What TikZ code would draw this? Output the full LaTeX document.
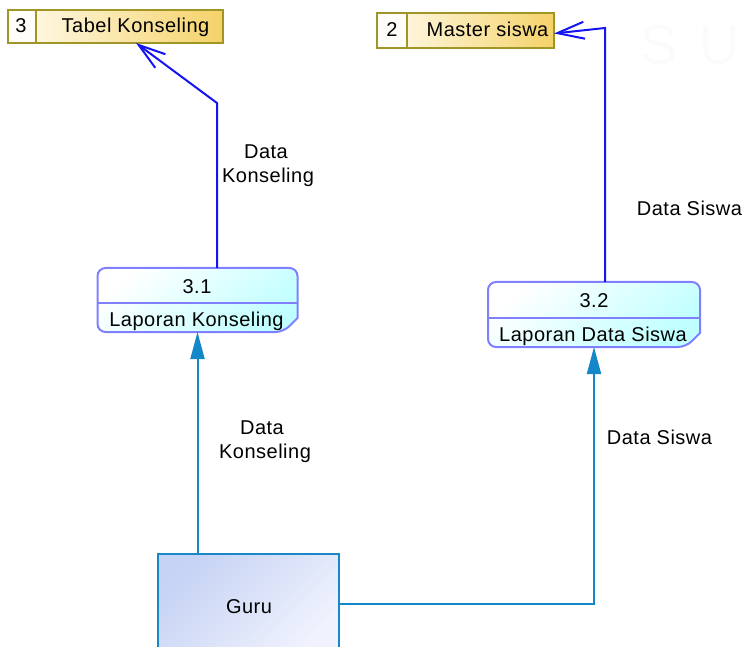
\documentclass[tikz,border=0pt]{standalone}
\usepackage{fontspec}
\setmainfont{Liberation Sans}[LetterSpace=2.5]
\usetikzlibrary{arrows.meta,calc}
\definecolor{procline}{RGB}{128,128,255}
\definecolor{proccyan}{RGB}{192,255,255}
\definecolor{storeline}{RGB}{160,150,40}
\definecolor{storegold}{RGB}{245,210,105}
\definecolor{storelight}{RGB}{255,252,240}
\definecolor{guruline}{RGB}{25,135,200}
\definecolor{gurudark}{RGB}{198,211,244}
\definecolor{gurulight}{RGB}{240,242,253}
\definecolor{flowblue}{RGB}{20,20,240}
\definecolor{flowteal}{RGB}{20,135,200}
\begin{document}
\begin{tikzpicture}[x=1pt,y=-1pt,
  txt/.style={font=\fontsize{20}{24}\selectfont, anchor=base, inner sep=0pt, outer sep=0pt},
  shapebox/.style={inner sep=0pt, outer sep=0pt, draw=none},
  storeborder/.style={draw=storeline, line width=2pt},
  procborder/.style={draw=procline, line width=2pt},
  storeflow/.style={draw=flowblue, line width=2pt, -{Straight Barb[length=27pt,width=17pt,line width=2pt]}},
  guruflow/.style={draw=flowteal, line width=2pt, -{Triangle[length=27pt,width=14pt]}}
]
\useasboundingbox (0,0) rectangle (742,647);
% watermark
\node[font=\fontsize{56}{56}\selectfont, text=black!1.5, anchor=base, inner sep=0pt] (wm) at (690,65) {S\hspace{22pt}U};

% store 3
\node[shapebox, minimum width=215pt, minimum height=33pt] (store3) at (115.5,26.5) {};
\shade[left color=storelight, right color=storegold] (store3.north west) rectangle (store3.south east);
\fill[storelight!50!white] (store3.north west) rectangle ($(store3.south west)+(28,0)$);
\draw[storeborder] (store3.north west) rectangle (store3.south east);
\draw[storeborder] ($(store3.north west)+(28,0)$) -- ($(store3.south west)+(28,0)$);
\node[txt] (s3num) at (21,33) {3};
\node[txt] (s3name) at (135.5,33) {Tabel Konseling};

% store 2
\node[shapebox, minimum width=177pt, minimum height=35pt] (store2) at (465.5,30.5) {};
\shade[left color=storelight, right color=storegold] (store2.north west) rectangle (store2.south east);
\fill[storelight!50!white] (store2.north west) rectangle ($(store2.south west)+(30,0)$);
\draw[storeborder] (store2.north west) rectangle (store2.south east);
\draw[storeborder] ($(store2.north west)+(30,0)$) -- ($(store2.south west)+(30,0)$);
\node[txt] (s2num) at (392,37) {2};
\node[txt] (s2name) at (487.5,37) {Master siswa};

% process 3.1
\node[shapebox, minimum width=200pt, minimum height=64pt] (p31) at (197.5,300) {};
\shade[top color=white, bottom color=proccyan, shading angle=40, rounded corners=8pt]
  ($(p31.south east)+(0,-14)$) |- (p31.north west) |- ($(p31.south east)+(-14,0)$) [sharp corners] -- cycle;
\draw[procborder, rounded corners=8pt]
  ($(p31.south east)+(0,-14)$) |- (p31.north west) |- ($(p31.south east)+(-14,0)$) [sharp corners] -- cycle;
\draw[procborder] ($(p31.north west)+(0,35)$) -- ($(p31.north east)+(0,35)$);
\node[txt] (p31id) at (197,294) {3.1};
\node[txt] (p31name) at (196.5,326) {Laporan Konseling};

% process 3.2
\node[shapebox, minimum width=212pt, minimum height=65pt] (p32) at (594,314.5) {};
\shade[top color=white, bottom color=proccyan, shading angle=40, rounded corners=8pt]
  ($(p32.south east)+(0,-14)$) |- (p32.north west) |- ($(p32.south east)+(-14,0)$) [sharp corners] -- cycle;
\draw[procborder, rounded corners=8pt]
  ($(p32.south east)+(0,-14)$) |- (p32.north west) |- ($(p32.south east)+(-14,0)$) [sharp corners] -- cycle;
\draw[procborder] ($(p32.north west)+(0,36)$) -- ($(p32.north east)+(0,36)$);
\node[txt] (p32id) at (594,307) {3.2};
\node[txt] (p32name) at (593,341) {Laporan Data Siswa};

% Guru
\node[shapebox, minimum width=181pt, minimum height=100pt] (guru) at (248.5,604) {};
\shade[top color=gurudark, bottom color=gurulight, shading angle=45] (guru.north west) rectangle (guru.south east);
\draw[draw=guruline, line width=2pt] (guru.north west) rectangle (guru.south east);
\node[txt] (gurutxt) at (249,613) {Guru};

% flows to stores
\coordinate (k1) at (217,103);
\coordinate (t3) at ($(store3.south west)+(128,0)$);
\draw[storeflow] (k1 |- p31.north) -- (k1) -- (t3);
\coordinate (k2) at (605,28);
\coordinate (t2) at ($(store2.east)+(0,3)$);
\draw[storeflow] (k2 |- p32.north) -- (k2) -- (t2);

% flows from Guru
\draw[guruflow] (guru.north -| p31.south) -- (p31.south);
\draw[guruflow] (guru.east) -| (p32.south);

% labels
\node[txt] (l1a) at (266,159) {Data};
\node[txt] (l1b) at (268,183) {Konseling};
\node[txt] (l2a) at (262,434) {Data};
\node[txt] (l2b) at (265,458) {Konseling};
\node[txt] (l3) at (689.5,216) {Data Siswa};
\node[txt] (l4) at (659.5,444) {Data Siswa};
\end{tikzpicture}
\end{document}
